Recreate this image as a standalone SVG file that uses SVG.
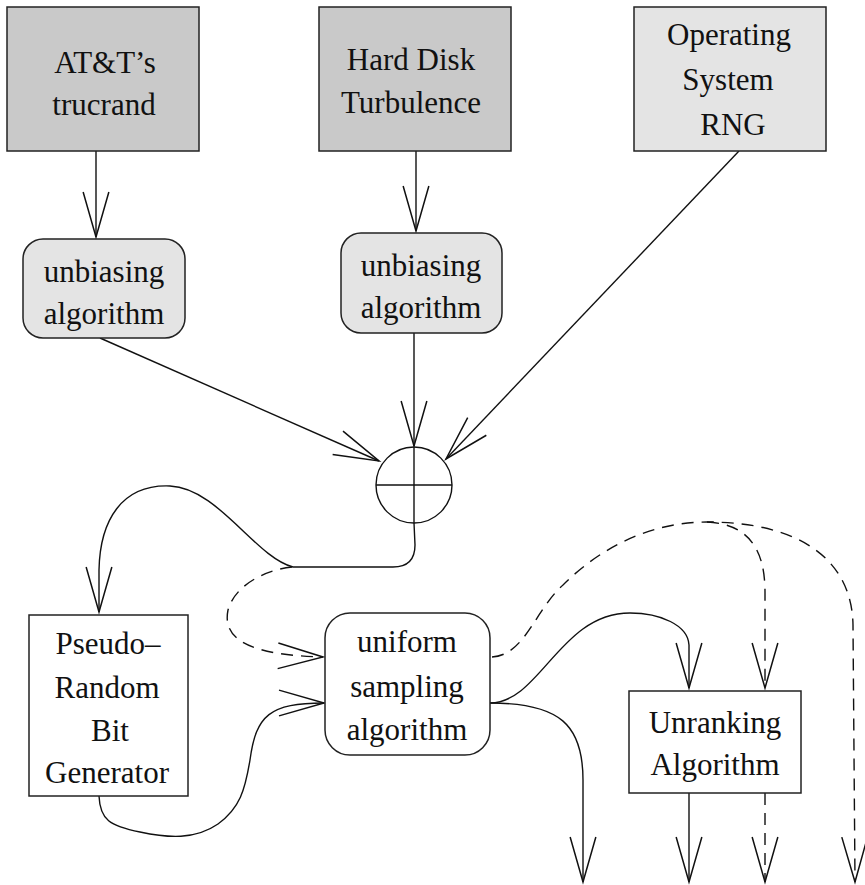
<svg xmlns="http://www.w3.org/2000/svg" width="865" height="885" viewBox="0 0 865 885">
<defs>
<style>
.box{stroke:#222;stroke-width:1.5}
.dark{fill:#c9c9c9}
.light{fill:#e4e4e4}
.white{fill:#fff}
text{font-family:"Liberation Serif","Times New Roman",serif;font-size:31px;fill:#111;text-anchor:middle}
.c{fill:none;stroke:#111;stroke-width:1.4}
.d{stroke-dasharray:12 8}
</style>
<marker id="v" markerUnits="userSpaceOnUse" markerWidth="50" markerHeight="30" viewBox="-44 -14 46 28" refX="0" refY="0" orient="auto" overflow="visible">
<path d="M-42,-12 L0,0 L-42,12" fill="none" stroke="#111" stroke-width="1.4"/>
</marker>
</defs>
<rect width="865" height="885" fill="#fff"/>

<g id="connectors">
<line class="c" x1="96" y1="151" x2="96" y2="237" marker-end="url(#v)"/>
<line class="c" x1="416" y1="151" x2="416" y2="231" marker-end="url(#v)"/>
<line class="c" x1="100" y1="338" x2="379" y2="461" marker-end="url(#v)"/>
<line class="c" x1="414" y1="333" x2="414" y2="446" marker-end="url(#v)"/>
<line class="c" x1="739" y1="151" x2="446" y2="459" marker-end="url(#v)"/>
<path class="c" d="M414,523 L415,545 C415,560 408,567 393,567 L293,567 C255,557 218,488 170,486 C122,484 100,520 99,570 L99,612" marker-end="url(#v)"/>
<path class="c d" d="M292,567 C265,570 235,585 228,610 C222,640 250,655 323,657" marker-end="url(#v)"/>
<path class="c" d="M99,796 C100,820 110,826 140,832 C168,838 195,840 218,824 C240,808 245,790 250,760 C256,715 270,703 324,703" marker-end="url(#v)"/>
<path class="c" d="M490,703 C540,703 560,613 630,613 C660,613 688,625 689,645 L689,688" marker-end="url(#v)"/>
<path class="c" d="M490,703 C560,703 583,725 583,780 L583,882" marker-end="url(#v)"/>
<line class="c" x1="689" y1="793" x2="689" y2="882" marker-end="url(#v)"/>
<line class="c d" x1="765" y1="793" x2="765" y2="882" marker-end="url(#v)"/>
<path class="c d" d="M492,657 C525,655 535,610 563,585 C600,548 650,522 707,522 C800,522 852,560 853,625 L855,882" marker-end="url(#v)"/>
<path class="c d" d="M707,522 C745,524 765,545 765,592 L765,688" marker-end="url(#v)"/>
</g>

<g id="att">
<rect class="box dark" x="7" y="7" width="192" height="144"/>
<text x="105" y="73">AT&amp;T’s</text>
<text x="104" y="115">trucrand</text>
</g>
<g id="hdd">
<rect class="box dark" x="319" y="7" width="192" height="144"/>
<text x="411" y="70">Hard Disk</text>
<text x="411" y="113">Turbulence</text>
</g>
<g id="osrng">
<rect class="box light" x="634" y="7" width="192" height="144"/>
<text x="729" y="45">Operating</text>
<text x="728" y="90">System</text>
<text x="733" y="135">RNG</text>
</g>
<g id="unbias1">
<rect class="box light" x="23" y="239" width="162" height="99" rx="20"/>
<text x="104" y="282">unbiasing</text>
<text x="104" y="324">algorithm</text>
</g>
<g id="unbias2">
<rect class="box light" x="341" y="233" width="161" height="100" rx="20"/>
<text x="421" y="276">unbiasing</text>
<text x="421" y="318">algorithm</text>
</g>
<g id="xor">
<circle cx="414" cy="485" r="38" fill="#fff" stroke="#111" stroke-width="1.4"/>
<line class="c" x1="376" y1="485" x2="452" y2="485"/>
<line class="c" x1="414" y1="447" x2="414" y2="523"/>
</g>
<g id="prbg">
<rect class="box white" x="29" y="615" width="159" height="181"/>
<text x="108" y="654">Pseudo–</text>
<text x="107" y="698">Random</text>
<text x="110" y="741">Bit</text>
<text x="107" y="783">Generator</text>
</g>
<g id="uniform">
<rect class="box white" x="325" y="613" width="165" height="142" rx="25"/>
<text x="407" y="652">uniform</text>
<text x="407" y="697">sampling</text>
<text x="407" y="740">algorithm</text>
</g>
<g id="unranking">
<rect class="box white" x="629" y="691" width="172" height="102"/>
<text x="715" y="733">Unranking</text>
<text x="715" y="775">Algorithm</text>
</g>
</svg>
